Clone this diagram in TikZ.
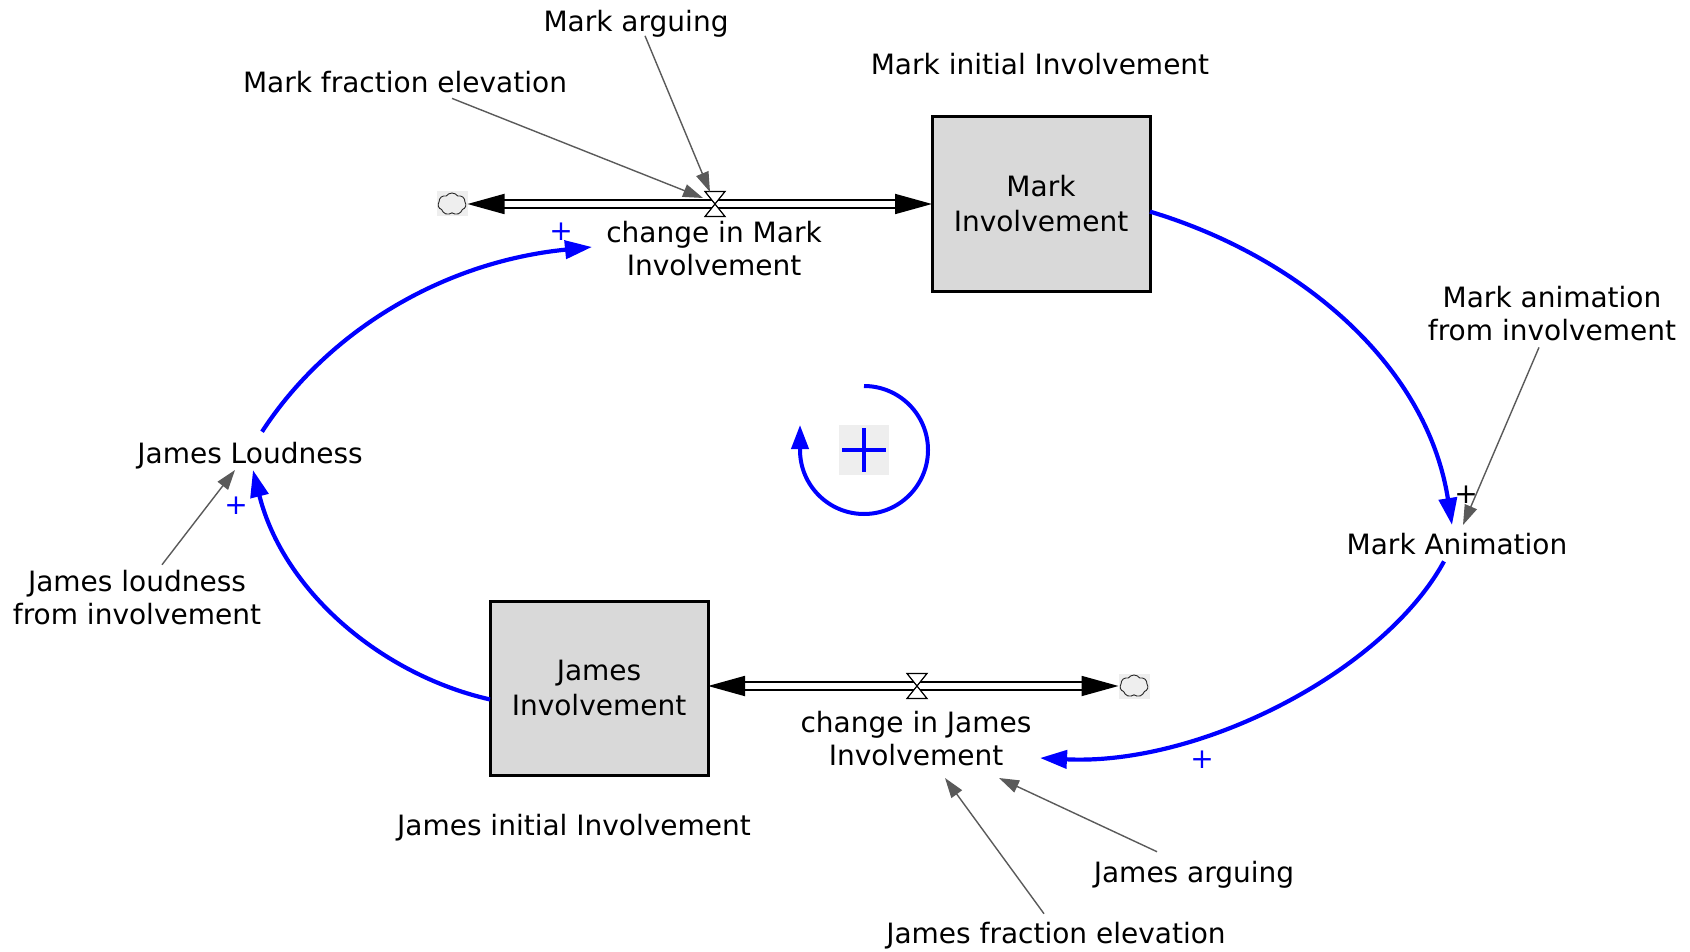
\documentclass[tikz,border=0pt]{standalone}
\usepackage{fontspec}
\setmainfont{DejaVu Sans}
\usetikzlibrary{arrows.meta,shapes.symbols}
\definecolor{stockfill}{RGB}{217,217,217}
\definecolor{lightbg}{RGB}{238,238,238}
\definecolor{linkgray}{RGB}{90,90,90}
\definecolor{loopblue}{RGB}{0,0,255}
\begin{document}
\begin{tikzpicture}[x=1pt,y=-1pt,
  every node/.style={font=\fontsize{28}{33}\selectfont, inner sep=0pt, outer sep=0pt},
  lbl/.style={anchor=base, align=center},
  stock/.style={draw=black, line width=3pt, fill=stockfill, minimum width=218pt, minimum height=174pt, align=center, font=\fontsize{28}{35}\selectfont},
  cloudbox/.style={fill=lightbg, minimum width=31pt, minimum height=25pt},
  cloudline/.style={cloud, cloud puffs=7, cloud puff arc=110, cloud ignores aspect, draw=black!85, line width=0.9pt, minimum width=28pt, minimum height=22pt, inner sep=0pt},
  pipe/.style={draw=black, line width=1.8pt, double=white, double distance=6pt,
    {Triangle[length=37pt,width=20pt]}-{Triangle[length=37pt,width=20pt]}},
  valve/.style={draw=black, fill=white, line width=1.2pt, line join=miter},
  blink/.style={draw=loopblue, line width=4.2pt, -{Triangle[length=27pt,width=18pt]}},
  glink/.style={draw=linkgray, line width=1.4pt, -{Triangle[length=20pt,width=13pt]}},
  bplus/.style={text=loopblue},
  loopbox/.style={fill=lightbg, minimum width=50pt, minimum height=50pt},
]
\useasboundingbox (0,0) rectangle (1690,952);
\fill[white] (0,0) rectangle (1690,952);

% stocks
\node[stock] (stockM) at (1041,204) {Mark\\Involvement};
\node[stock] (stockJ) at (599,688) {James\\Involvement};

% clouds
\node[cloudbox] (cloudM) at (452,204) {};
\node[cloudline] (cloudMo) at (cloudM) {};
\node[cloudbox] (cloudJ) at (1134,686) {};
\node[cloudline] (cloudJo) at (cloudJ) {};

% valves
\coordinate (vM) at (715,204);
\coordinate (vJ) at (917,686);

% pipes
\draw[pipe] (cloudM.east) -- (stockM.west |- vM);
\draw[pipe] (cloudJ.west) -- (stockJ.east |- vJ);
\draw[valve, shift={(vM)}] (-10,-12.5) -- (10,-12.5) -- (-10,12.5) -- (10,12.5) -- cycle;
\draw[valve, shift={(vJ)}] (-10,-12.5) -- (10,-12.5) -- (-10,12.5) -- (10,12.5) -- cycle;

% labels (base = baseline of last line)
\node[lbl] (mArg) at (636,32) {Mark arguing};
\node[lbl] (mFrac) at (405,93) {Mark fraction elevation};
\node[lbl] (mInit) at (1040,75) {Mark initial Involvement};
\node[lbl] (flowM) at (714,276) {change in Mark\\Involvement};
\node[lbl] (mAnimF) at (1552,340) {Mark animation\\from involvement};
\node[lbl] (mAnim) at (1457,554) {Mark Animation};
\node[lbl] (jLoud) at (250,463) {James Loudness};
\node[lbl] (jLoudF) at (137,624) {James loudness\\from involvement};
\node[lbl] (flowJ) at (916,765) {change in James\\Involvement};
\node[lbl] (jInit) at (574,835) {James initial Involvement};
\node[lbl] (jArg) at (1194,882) {James arguing};
\node[lbl] (jFrac) at (1056,943) {James fraction elevation};

% arrow tip coordinates
\coordinate (tMFrac) at (703,198);
\coordinate (tMArg) at (710,192);
\coordinate (tMAnimF) at (1463,525);
\coordinate (tMA) at (1452,525);
\coordinate (tJF) at (1040,758);
\coordinate (tJL) at (253,470);
\coordinate (tJLF) at (235,470);
\coordinate (tMF) at (592,247);
\coordinate (tJArg) at (999,778);
\coordinate (tJFrac) at (945,778);

% blue causal links
\draw[blink] (stockM.-4) .. controls +(150,45) and +(-25,-160) .. (tMA);
\draw[blink] ([shift={(-13,7)}]mAnim.south) .. controls +(-60,110) and +(160,8) .. (tJF);
\draw[blink] (stockJ.186) .. controls +(-110,-25) and +(30,120) .. (tJL);
\draw[blink] ([shift={(12,-10)}]jLoud.north) .. controls +(65,-100) and +(-150,15) .. (tMF);

% gray links
\draw[glink] ([shift={(47,5)}]mFrac.south) -- (tMFrac);
\draw[glink] ([shift={(9,-2)}]mArg.south) -- (tMArg);
\draw[glink] ([shift={(-13,7)}]mAnimF.south) -- (tMAnimF);
\draw[glink] ([shift={(25,-5)}]jLoudF.north) -- (tJLF);
\draw[glink] ([shift={(-37,-9)}]jArg.north) -- (tJArg);
\draw[glink] ([shift={(-12,-8)}]jFrac.north) -- (tJFrac);

% polarity signs
\node[bplus] (pM) at (561,232) {+};
\node[bplus] (pJ) at (1202,760) {+};
\node[bplus] (pL) at (236,506) {+};
\node (pA) at (1466,495) {+};

% loop symbol
\node[loopbox] (loopsym) at (864,450) {};
\draw[loopblue, line width=3.5pt] ([shift={(-22,0)}]loopsym.center) -- ([shift={(22,0)}]loopsym.center);
\draw[loopblue, line width=3.5pt] ([shift={(0,-22)}]loopsym.center) -- ([shift={(0,22)}]loopsym.center);
\draw[loopblue, line width=4pt, -{Triangle[length=24pt,width=17pt]}]
  ([shift={(0,-64)}]loopsym.center) arc[start angle=90, end angle=-180, radius=64pt] -- ++(0,-25);
\end{tikzpicture}
\end{document}
